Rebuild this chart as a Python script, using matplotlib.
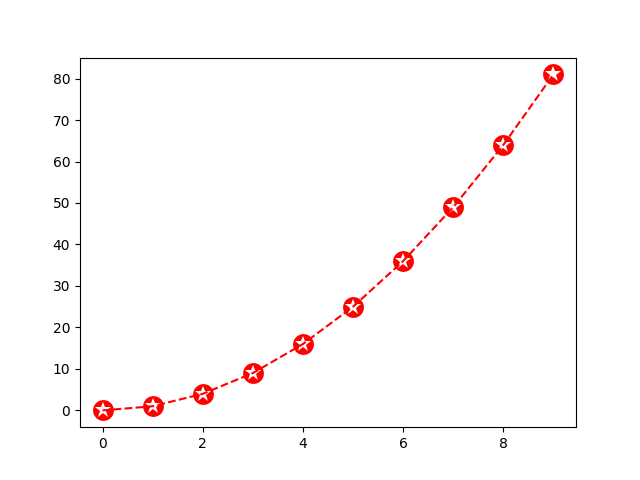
import numpy as np
from matplotlib import pyplot as plt

x = [0, 1, 2, 3, 4, 5, 6, 7, 8, 9]
y = [0, 1, 4, 9, 16, 25, 36, 49, 64, 81]

fig = plt.figure(figsize=(6.4, 4.8), dpi=100)
ax = fig.add_subplot(111)
# red disc with a white star, dashed line drawn over the top
ax.plot(x, y, linestyle='none', marker='o', markersize=15, color='red', markeredgewidth=0)
ax.plot(x, y, linestyle='none', marker='*', markersize=12, color='white', markeredgewidth=0)
ax.plot(x, y, 'r--')
plt.savefig('out.png', dpi=100)
